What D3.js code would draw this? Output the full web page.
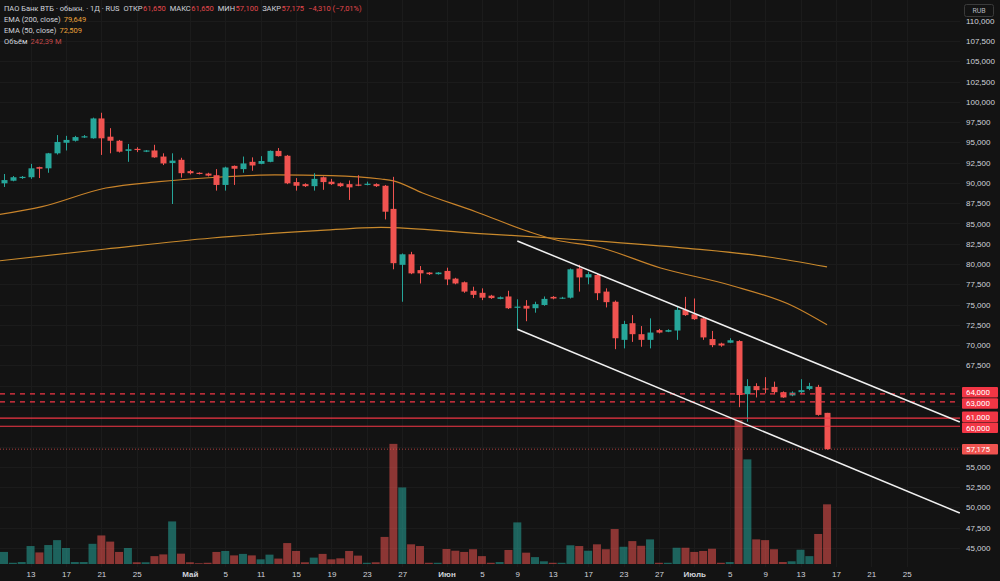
<!DOCTYPE html>
<html>
<head>
<meta charset="utf-8">
<script src="https://cdnjs.cloudflare.com/ajax/libs/d3/7.8.5/d3.min.js"></script>
<style>
  body { margin: 0; background: #131313; }
  svg { display: block; font-family: Roboto, "DejaVu Sans", sans-serif; }
</style>
</head>
<body>
<svg width="1000" height="581"></svg>
<script>
// Daily candles, ВТБ, 10 Apr - 16 Jul (bar index 0..93)
const opens = [89950,90270,90600,90700,91950,91800,93650,94950,95200,95600,
  95500,97950,95700,95200,93950,94200,93850,94000,93250,92450,
  92850,91450,91250,91150,90950,89750,92100,91700,92600,92350,
  92600,93950,93350,90100,89850,89600,90700,90150,89950,89850,
  89800,89750,89850,89650,86800,79900,81200,79250,78950,78750,
  79150,78200,77750,76700,76450,76100,75700,76000,74600,74850,
  74550,74950,75950,75750,75850,79450,78350,78650,76600,75350,
  70650,72700,71350,70650,71850,71650,71800,74350,73800,73300,
  70750,70200,70300,70500,63950,64950,64650,64850,64200,63800,
  64200,64600,64850,61650];
const highs = [91100,90850,90850,92350,92000,93700,95900,95800,95800,95900,
  98050,98650,96750,95300,94800,94400,94050,94700,93650,93650,
  93100,91600,91300,91250,91700,92000,92150,93250,93150,93300,
  94000,94300,93450,90600,89950,91200,90800,90500,90050,90300,
  90950,90150,89950,89750,90750,81300,81500,79750,79000,79000,
  79550,78300,77850,77200,77000,76200,76000,76700,75650,75550,
  75350,76000,76050,75950,79450,79900,79050,78800,77000,75500,
  73000,73700,72350,73300,72000,71950,74750,75950,75750,73400,
  71750,70300,70850,70600,65800,65300,66050,65500,64300,64300,
  65800,65350,65100,61650];
const lows = [89500,90200,90500,90500,90600,91250,93500,94000,95100,95550,
  95450,93450,93650,93750,92600,93800,93800,93100,92200,87400,
  90650,91050,91050,90800,89050,89050,89750,91250,91500,92300,
  92550,93250,89850,89050,89500,89050,89150,89750,89500,87900,
  89600,89700,89500,85500,79350,75350,78750,77600,78650,78700,
  77400,77500,76450,75800,75550,75700,75650,74450,71850,72950,
  74000,74850,75650,75700,75750,76600,77500,75550,74650,69500,
  69600,70400,69800,69600,71450,71600,70650,73600,73100,70650,
  69750,69800,70250,62350,60550,63550,64050,63950,63500,63700,
  63950,64450,61300,57100];
const closes = [90350,90700,90750,91800,91750,93650,95050,95300,95650,95750,
  97950,95500,95200,93850,94150,94050,94000,93150,92400,92750,
  91200,91200,91100,90900,89750,91900,91750,92400,92150,92700,
  93950,93300,89950,89650,89600,90500,90100,89850,89600,89450,
  89650,89900,89600,86450,80100,81200,78850,78850,78750,78950,
  78100,77600,76600,76200,75850,75800,75900,74550,74750,74500,
  75050,75700,75750,75850,79350,78350,78750,76400,75300,70850,
  72600,71350,70650,71550,71550,71850,74350,73700,73200,70950,
  70000,69950,70600,63850,64950,64450,64600,64200,63550,64150,
  64450,64950,61400,57175];
// volume, millions of shares
const volumes = [49,5,8,73,47,77,97,65,8,8,
  82,116,91,49,65,7,7,32,39,173,
  42,7,3,5,49,53,35,41,35,19,
  38,22,85,53,7,26,41,19,23,53,
  34,5,7,110,488,311,80,73,5,5,
  61,54,49,60,32,5,8,57,169,46,
  28,11,5,5,76,73,54,80,60,142,
  70,93,74,100,5,5,66,66,49,53,
  62,5,8,585,425,100,97,60,8,11,
  58,32,122,242.39];

// moving averages: [bar index, price]
const ema50 = [[-0.5,86100],[4.3,87070],[11.5,89370],[17.5,90150],[24,90700],[30.6,90980],
  [37,90900],[42.6,90480],[44,90250],[47.3,88760],[53.3,86450],[59.3,83990],[62.4,82960],
  [67.1,82100],[74.2,79510],[82,77410],[89.3,74740],[93,72509]];
const ema200 = [[-0.5,80400],[11.5,81850],[23.5,83210],[35.4,84110],[42.6,84530],
  [53.3,83790],[65.3,82960],[77.3,81940],[86.2,80900],[93,79649]];

// descending channel: [bar index, price]
const channelUpper = [[58,82840],[108,60520]];
const channelLower = [[58,71950],[108,49300]];

// horizontal levels
const dashedLevels = [64000, 63000];
const solidLevels = [61000, 60000];
const lastPrice = 57175;

// axis ticks
const timeTickIndex = [3,7,11,15,21,25,29,33,37,41,45,50,54,58,62,66,70,74,78,82,86,90,94,98,102];
const timeTickLabels = ["13","17","21","25","Май","5","11","15","19","23","27","Июн","5","9","13","17","23","27","Июль","5","9","13","17","21","25"];
const monthLabels = ["Май","Июн","Июль"];
const priceTicks = [110000,107500,105000,102500,100000,97500,95000,92500,90000,87500,85000,
  82500,80000,77500,75000,72500,70000,67500,65000,62500,60000,57500,55000,52500,50000,47500,45000];

const svg = d3.select("svg");
const W = 1000, H = 581;
const paneRight = 960;
const green = "#26a69a", red = "#f05350";

svg.append("rect").attr("width", W).attr("height", H).attr("fill", "#131313");

const x = d3.scaleLinear().domain([0, 102]).range([4, 906.7]);
const y = d3.scaleLinear().domain([45000, 110000]).range([547.9, 20.7]);
const yVol = d3.scaleLinear().domain([0, 585]).range([564, 420]);

svg.append("clipPath").attr("id", "pane")
  .append("rect").attr("width", paneRight).attr("height", 567);

const pane = svg.append("g").attr("clip-path", "url(#pane)");

// grid
pane.selectAll(".vgrid").data(timeTickIndex).enter().append("line")
  .attr("x1", d => Math.round(x(d)) + 0.5).attr("x2", d => Math.round(x(d)) + 0.5)
  .attr("y1", 0).attr("y2", 567)
  .attr("stroke", "#1b1b1b");
pane.selectAll(".hgrid").data(priceTicks).enter().append("line")
  .attr("x1", 0).attr("x2", paneRight)
  .attr("y1", d => Math.round(y(d)) + 0.5).attr("y2", d => Math.round(y(d)) + 0.5)
  .attr("stroke", "#1b1b1b");

// volume
pane.selectAll(".vol").data(volumes).enter().append("rect")
  .attr("x", (d, i) => x(i) - 4)
  .attr("width", 8)
  .attr("y", d => yVol(d))
  .attr("height", d => yVol(0) - yVol(d))
  .attr("fill", (d, i) => closes[i] >= opens[i] ? green : red)
  .attr("fill-opacity", 0.55);

// EMAs
const line = d3.line().x(d => x(d[0])).y(d => y(d[1])).curve(d3.curveMonotoneX);
pane.append("path").attr("d", line(ema200))
  .attr("fill", "none").attr("stroke", "#c8892c").attr("stroke-width", 1.2);
pane.append("path").attr("d", line(ema50))
  .attr("fill", "none").attr("stroke", "#c8832a").attr("stroke-width", 1.2);

// candles
const candles = pane.selectAll(".candle").data(d3.range(opens.length)).enter().append("g");
candles.append("line")
  .attr("x1", i => Math.round(x(i)) + 0.5).attr("x2", i => Math.round(x(i)) + 0.5)
  .attr("y1", i => y(highs[i])).attr("y2", i => y(lows[i]))
  .attr("stroke", i => closes[i] >= opens[i] ? green : red);
candles.append("rect")
  .attr("x", i => Math.round(x(i)) - 2.5)
  .attr("width", 6)
  .attr("y", i => y(Math.max(opens[i], closes[i])))
  .attr("height", i => Math.max(1, Math.abs(y(opens[i]) - y(closes[i]))))
  .attr("fill", i => closes[i] >= opens[i] ? green : red);

// horizontal levels
pane.selectAll(".dash").data(dashedLevels).enter().append("line")
  .attr("x1", 0).attr("x2", paneRight)
  .attr("y1", d => y(d)).attr("y2", d => y(d))
  .attr("stroke", "#f23645").attr("stroke-dasharray", "5,5").attr("stroke-width", 1.2);
pane.selectAll(".solid").data(solidLevels).enter().append("line")
  .attr("x1", 0).attr("x2", paneRight)
  .attr("y1", d => y(d)).attr("y2", d => y(d))
  .attr("stroke", "#f23645").attr("stroke-width", 1.2);
pane.append("line")
  .attr("x1", 0).attr("x2", paneRight)
  .attr("y1", y(lastPrice)).attr("y2", y(lastPrice))
  .attr("stroke", red).attr("stroke-opacity", 0.7).attr("stroke-dasharray", "1,2");

// channel
[channelUpper, channelLower].forEach(c => {
  pane.append("line")
    .attr("x1", x(c[0][0])).attr("y1", y(c[0][1]))
    .attr("x2", x(c[1][0])).attr("y2", y(c[1][1]))
    .attr("stroke", "#f0f0f0").attr("stroke-width", 1.5);
});

// price label boxes (pairs pushed apart like TradingView does)
const boxH = 10.5;
function spread(levels) {
  const c = levels.map(d => y(d));
  const mid = (c[0] + c[1]) / 2;
  return [{v: levels[0], cy: mid - boxH / 2 - 0.3}, {v: levels[1], cy: mid + boxH / 2 + 0.3}];
}
const boxes = spread(dashedLevels).concat(spread(solidLevels))
  .map(d => ({...d, fill: "#f23645"}))
  .concat([{v: lastPrice, cy: y(lastPrice), fill: red}]);

// price axis, labels hidden where a price box covers them
const yAxis = svg.append("g")
  .attr("transform", `translate(963, 0)`)
  .call(d3.axisRight(y).tickValues(priceTicks).tickSize(0).tickPadding(3)
    .tickFormat(d => d3.format(",")(d)));
yAxis.select(".domain").remove();
yAxis.selectAll("text").attr("fill", "#d1d4dc").attr("font-size", "8px")
  .style("display", d => boxes.some(b => Math.abs(b.cy - y(d)) < 10) ? "none" : null);

// time axis
const xAxis = svg.append("g")
  .attr("transform", `translate(0, 567)`)
  .call(d3.axisBottom(x).tickValues(timeTickIndex).tickSize(0).tickPadding(4)
    .tickFormat((d, i) => timeTickLabels[i]));
xAxis.select(".domain").remove();
xAxis.selectAll("text").attr("fill", "#d1d4dc").attr("font-size", "8px")
  .attr("font-weight", (d, i) => monthLabels.includes(timeTickLabels[i]) ? "bold" : "normal");

// RUB box
svg.append("rect").attr("x", 964.5).attr("y", 4.5).attr("width", 29).attr("height", 12)
  .attr("rx", 2).attr("fill", "#131313").attr("stroke", "#3a3a3a");
svg.append("text").attr("x", 979).attr("y", 13).attr("text-anchor", "middle")
  .attr("font-size", "7px").attr("fill", "#b2b5be").text("RUB");

const bx = svg.selectAll(".pbox").data(boxes).enter().append("g");
bx.append("rect").attr("x", 962).attr("width", 36)
  .attr("y", d => d.cy - boxH / 2).attr("height", boxH)
  .attr("rx", 1).attr("fill", d => d.fill);
bx.append("text").attr("x", 966).attr("y", d => d.cy + 3)
  .attr("font-size", "8px").attr("fill", "#ffffff")
  .text(d => d3.format(",")(d.v));

// legend: segments laid out one after another, gap before each new label
const legendRows = [
  [{t: "ПАО Банк ВТБ · обыкн. · 1Д · RUS", c: "#d1d4dc", gap: 0},
   {t: "ОТКР", c: "#d1d4dc", gap: 4}, {t: "61,650", c: "#e5484d", gap: 0.5},
   {t: "МАКС", c: "#d1d4dc", gap: 4}, {t: "61,650", c: "#e5484d", gap: 0.5},
   {t: "МИН", c: "#d1d4dc", gap: 4}, {t: "57,100", c: "#e5484d", gap: 0.5},
   {t: "ЗАКР", c: "#d1d4dc", gap: 4}, {t: "57,175", c: "#e5484d", gap: 0.5},
   {t: "−4,310 (−7,01%)", c: "#e5484d", gap: 4}],
  [{t: "EMA (200, close)", c: "#d1d4dc", gap: 0}, {t: "79,649", c: "#eba23a", gap: 3}],
  [{t: "EMA (50, close)", c: "#d1d4dc", gap: 0}, {t: "72,509", c: "#eba23a", gap: 3}],
  [{t: "Объём", c: "#d1d4dc", gap: 0}, {t: "242,39 M", c: "#c24a4a", gap: 3}]
];
legendRows.forEach((row, r) => {
  let cx = 4;
  row.forEach(s => {
    cx += s.gap;
    const t = svg.append("text").attr("x", cx).attr("y", 10.5 + r * 11.3)
      .attr("font-size", "7.5px").attr("fill", s.c).text(s.t);
    cx += t.node().getComputedTextLength();
  });
});
</script>
</body>
</html>
